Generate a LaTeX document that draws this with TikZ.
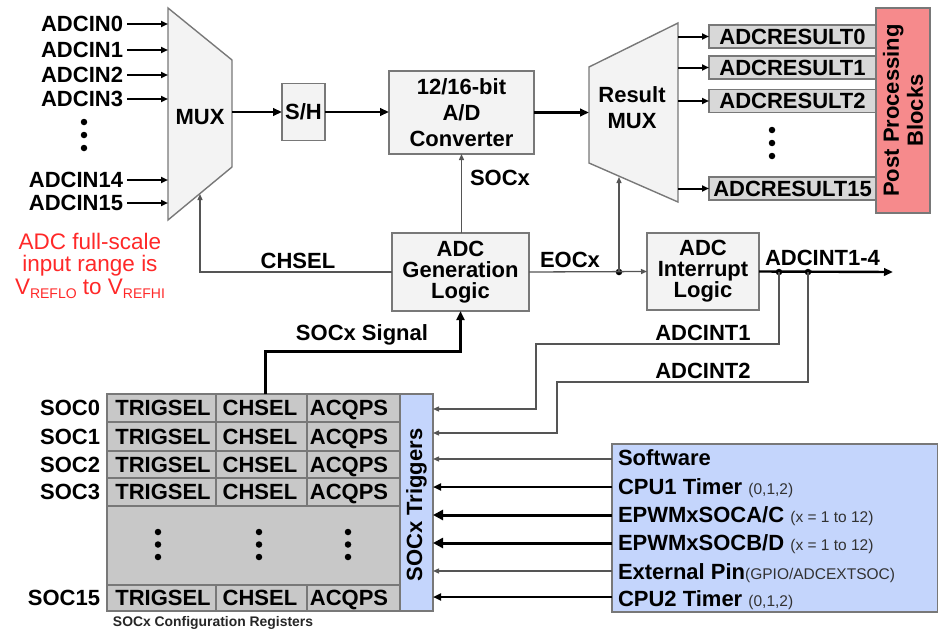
\documentclass[tikz,border=0pt]{standalone}
\usepackage{fontspec}
\setmainfont{Liberation Sans}
\usetikzlibrary{arrows.meta,calc}
\definecolor{boxfill}{RGB}{243,243,243}
\definecolor{boxline}{RGB}{120,120,120}
\definecolor{resfill}{RGB}{216,216,216}
\definecolor{cellfill}{RGB}{200,200,200}
\definecolor{bluefill}{RGB}{196,213,252}
\definecolor{pinkfill}{RGB}{246,138,140}
\definecolor{redtext}{RGB}{255,40,40}
\definecolor{wire}{RGB}{85,85,85}
\newcommand\vsub[1]{\raisebox{-4.5pt}{\fontsize{14}{14}\selectfont #1}}
\newcommand\smallpar[1]{{\fontsize{15.5}{15.5}\selectfont\mdseries\color[RGB]{50,50,50}#1}}
\begin{document}
\begin{tikzpicture}[x=1pt,y=-1pt,
  every node/.style={inner sep=0pt, outer sep=0pt},
  bf/.style={font=\fontsize{22}{24}\selectfont\bfseries, text=black},
  lab/.style={bf, text height=15.8pt, text depth=0pt},
  blk/.style={draw=boxline, fill=boxfill, line width=1.4pt},
  resbox/.style={draw=boxline, fill=resfill, line width=1.4pt, minimum width=167pt, minimum height=23pt},
  bus/.style={line width=2.4pt, -{Triangle[length=9pt,width=7.5pt]}},
  inarr/.style={line width=2pt, -{Triangle[length=7pt,width=6pt]}},
  wirearr/.style={draw=wire, line width=1.3pt, -{Triangle[length=6pt,width=5pt]}},
  wireline/.style={draw=wire, line width=1.3pt},
  midarr/.style={line width=2.2pt, -{Triangle[length=8pt,width=7pt]}},
  bigarr/.style={line width=3pt, -{Triangle[length=10pt,width=10pt]}},
  dotc/.style={circle, fill=black, minimum size=6.5pt},
  cellline/.style={draw=boxline, line width=1.3pt},
]
\useasboundingbox (0,0) rectangle (938,632);

% ---------- input MUX ----------
\coordinate (m1) at (168,8);
\coordinate (m2) at (232,60);
\coordinate (m3) at (232,167);
\coordinate (m4) at (168,220);
\draw[blk] (m1) -- (m2) -- (m3) -- (m4) -- cycle;
\node[lab] (mux) at (200,117) {MUX};

\foreach \nm/\t/\yy in {in0/ADCIN0/24, in1/ADCIN1/50, in2/ADCIN2/75, in3/ADCIN3/99, in14/ADCIN14/180, in15/ADCIN15/203}{
  \node[lab, anchor=east] (\nm) at (123,\yy) {\t};
  \draw[inarr] ([xshift=4pt]\nm.east) -- (\nm.east -| m1);
}
\foreach \yy [count=\i] in {122,135,148}{
  \node[dotc] (ld\i) at (84,\yy) {};
}

\node[font=\fontsize{22.5}{22.5}\selectfont, text=redtext, align=center] (note) at (90,266)
  {ADC full-scale\\input range is\\V\vsub{REFLO} to V\vsub{REFHI}};

% ---------- S/H and converter ----------
\node[blk, lab, minimum width=43pt, minimum height=57pt] (sh) at (303.5,112) {S/H};
\node[blk, bf, align=center, minimum width=145pt, minimum height=83pt,
      font=\fontsize{22}{26}\selectfont\bfseries] (conv) at (461.5,112.5)
      {12/16-bit\\A/D\\Converter};
\draw[bus] (m2 |- sh.west) -- (sh.west);
\draw[bus] (sh.east) -- (sh.east -| conv.west);

% ---------- result MUX ----------
\coordinate (r1) at (589,67);
\coordinate (r2) at (678,23);
\coordinate (r3) at (678,202);
\coordinate (r4) at (589,163);
\draw[blk] (r1) -- (r2) -- (r3) -- (r4) -- cycle;
\node[bf, align=center, font=\fontsize{22}{26}\selectfont\bfseries] (rmux) at (632,108) {Result\\MUX};
\draw[bus] (conv.east) -- (conv.east -| r1);

\node[resbox, lab] (res0) at (792.5,36.5) {ADCRESULT0};
\node[resbox, lab] (res1) at (792.5,67.5) {ADCRESULT1};
\node[resbox, lab] (res2) at (792.5,101) {ADCRESULT2};
\node[resbox, lab] (res15) at (792.5,188.5) {ADCRESULT15};
\foreach \r in {res0,res1,res2,res15}{
  \draw[inarr] (r2 |- \r.west) -- (\r.west);
}
\foreach \yy [count=\i] in {130,143,156}{
  \node[dotc] (rd\i) at (772,\yy) {};
}

\node[draw=boxline, fill=pinkfill, line width=1.4pt, minimum width=54pt, minimum height=205pt] (pp) at (903,110.5) {};
\node[bf, rotate=90, align=center] (pptext) at (pp.center) {Post Processing\\Blocks};

% ---------- control logic ----------
\node[blk, bf, align=center, minimum width=137pt, minimum height=78pt,
      font=\fontsize{22}{21}\selectfont\bfseries] (gen) at (460.5,272) {ADC\\Generation\\Logic};
\node[blk, bf, align=center, minimum width=112pt, minimum height=77pt,
      font=\fontsize{22}{21}\selectfont\bfseries] (int) at (703,271.5) {ADC\\Interrupt\\Logic};

\draw[wirearr] (gen.north -| conv.south) -- (conv.south);
\node[lab] (socx) at (500,178) {SOCx};

\coordinate (chc) at (200,272);
\draw[wirearr] (gen.west) -- (chc) -- (200,194);
\node[lab] (chsel) at (298,261) {CHSEL};

\node[dotc] (j1) at (619,272) {};
\draw[wirearr] (gen.east) -- (int.west);
\draw[wirearr] (j1.center) -- (619,177);
\node[lab] (eocx) at (570,260) {EOCx};

\coordinate (intout) at (893,272);
\draw[bus] (int.east) -- (intout);
\node[lab] (adcint) at (822.5,258) {ADCINT1-4};
\node[dotc] (d1) at (779,272) {};
\node[dotc] (d2) at (808,272) {};

% ---------- SOC table ----------
\fill[cellfill] (107,394) rectangle (400,611);
\draw[cellline] (107,394) rectangle (400,611);
\foreach \yy in {422,451,478,506,585}{
  \draw[cellline] (107,\yy) -- (400,\yy);
}
\foreach \xx in {216,307}{
  \draw[cellline] (\xx,394) -- (\xx,506);
  \draw[cellline] (\xx,585) -- (\xx,611);
}
\foreach \nm/\t/\yy in {s0/SOC0/408, s1/SOC1/436.5, s2/SOC2/464.5, s3/SOC3/492, s15/SOC15/598}{
  \node[lab, anchor=east] (\nm) at (100,\yy) {\t};
  \node[lab] (\nm a) at (163,\yy) {TRIGSEL};
  \node[lab] (\nm b) at (260,\yy) {CHSEL};
  \node[lab] (\nm c) at (349,\yy) {ACQPS};
}
\foreach \xx [count=\j] in {158,259,348}{
  \foreach \yy [count=\i] in {532,544.5,557}{
    \node[dotc] (td\j\i) at (\xx,\yy) {};
  }
}
\node[font=\fontsize{13.9}{14}\selectfont\bfseries, text=black!85] (cfg) at (213,623) {SOCx Configuration Registers};

\node[draw=boxline, fill=bluefill, line width=1.4pt, minimum width=33pt, minimum height=217pt] (trig) at (416.5,502.5) {};
\node[bf, rotate=90] (trigtext) at (416.5,505) {SOCx Triggers};

% SOCx signal
\coordinate (sig1) at (265,351);
\draw[line width=3pt, -{Triangle[length=9pt,width=8pt]}] (265,394) -- (sig1) -- (sig1 -| gen.south) -- (gen.south);
\node[lab] (sigl) at (362,333) {SOCx Signal};

% ADCINT feedback
\draw[wirearr] (d1.center) -- (779,344) -- (536,344) -- (536,409) -- (trig.east |- 0,409);
\node[lab] (ai1) at (703,333) {ADCINT1};
\draw[wirearr] (d2.center) -- (808,382) -- (557,382) -- (557,433) -- (trig.east |- 0,433);
\node[lab] (ai2) at (703,371) {ADCINT2};

% ---------- trigger sources ----------
\node[draw=boxline, fill=bluefill, line width=1.4pt, minimum width=326pt, minimum height=168pt] (src) at (775,528) {};
\node[lab, anchor=west] (t1) at (618,458) {Software};
\node[lab, anchor=west] (t2) at (618,487) {CPU1 Timer \smallpar{(0,1,2)}};
\node[lab, anchor=west] (t3) at (618,515) {EPWMxSOCA/C \smallpar{(x = 1 to 12)}};
\node[lab, anchor=west] (t4) at (618,543) {EPWMxSOCB/D \smallpar{(x = 1 to 12)}};
\node[lab, anchor=west] (t5) at (618,572) {External Pin\smallpar{(GPIO/ADCEXTSOC)}};
\node[lab, anchor=west] (t6) at (618,599) {CPU2 Timer \smallpar{(0,1,2)}};

\draw[wirearr] (src.west |- 0,459) -- (trig.east |- 0,459);
\draw[midarr] (src.west |- 0,487) -- (trig.east |- 0,487);
\draw[bigarr] (src.west |- 0,515) -- (trig.east |- 0,515);
\draw[bigarr] (src.west |- 0,543) -- (trig.east |- 0,543);
\draw[wirearr] (src.west |- 0,571) -- (trig.east |- 0,571);
\draw[midarr] (src.west |- 0,597) -- (trig.east |- 0,597);
\end{tikzpicture}
\end{document}
